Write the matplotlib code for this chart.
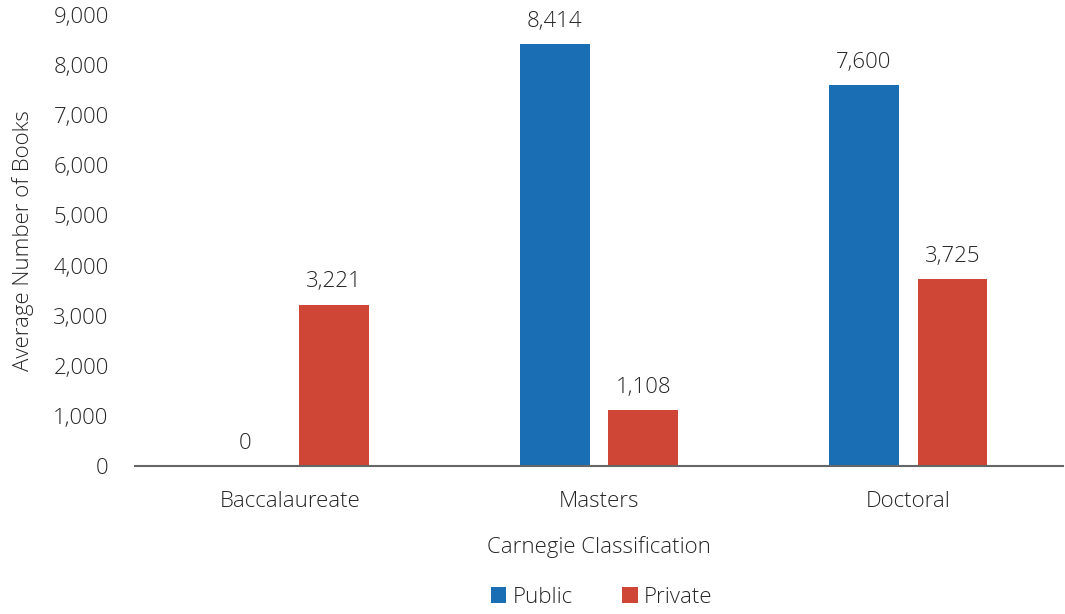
import matplotlib.pyplot as plt
import numpy as np

categories = ["Baccalaureate", "Masters", "Doctoral"]
public_books = [0, 8414, 7600]
private_books = [3221, 1108, 3725]

plt.rcParams['font.family'] = ['Open Sans', 'DejaVu Sans']
plt.rcParams['font.weight'] = 'light'
plt.rcParams['axes.labelweight'] = 'light'
text_color = '#262626'
fs = 16

fig = plt.figure(figsize=(10.65, 6.14), dpi=100)
ax = fig.add_axes([0.1268, 0.241, 0.8712, 0.7346])

x = np.arange(len(categories))
width = 0.225
offset = 0.143

bars_pub = ax.bar(x - offset, public_books, width, color='#1a6fb4', label='Public')
bars_priv = ax.bar(x + offset, private_books, width, color='#cf4636', label='Private')

for rects, vals in [(bars_pub, public_books), (bars_priv, private_books)]:
    for rect, v in zip(rects, vals):
        ax.annotate(f'{v:,}', xy=(rect.get_x() + rect.get_width() / 2, v),
                    xytext=(0, 9), textcoords='offset points',
                    ha='center', va='bottom', fontsize=fs, color=text_color)

ax.set_xlim(-0.5, 2.5)
ax.set_ylim(0, 9000)
ax.set_yticks(np.arange(0, 9001, 1000))
ax.set_yticklabels([f'{t:,}' for t in range(0, 9001, 1000)])
ax.set_xticks(x)
ax.set_xticklabels(categories)
ax.tick_params(axis='both', length=0, labelsize=fs, labelcolor=text_color)
ax.tick_params(axis='x', pad=18)
ax.tick_params(axis='y', pad=19)

for side in ['top', 'right', 'left']:
    ax.spines[side].set_visible(False)
ax.spines['bottom'].set_color('#666666')
ax.spines['bottom'].set_linewidth(1.5)

ax.set_xlabel('Carnegie Classification', fontsize=fs, color=text_color, labelpad=17)
ax.set_ylabel('Average Number of Books', fontsize=fs, color=text_color, labelpad=14)

fig.legend(loc='lower center', bbox_to_anchor=(0.565, -0.022), ncol=2, frameon=False,
           prop={'size': fs, 'weight': 'light'}, handlelength=0.7, handleheight=0.7,
           columnspacing=2.2, handletextpad=0.3, labelcolor=text_color)

fig.savefig('out.png', dpi=100)
